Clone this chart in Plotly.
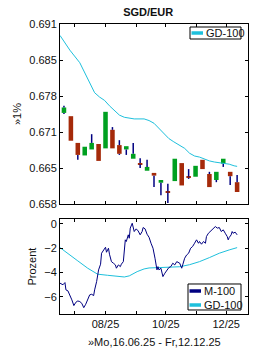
import plotly.graph_objects as go
import numpy as np
import pandas as pd

# ---------------- data ----------------
candle_dates = pd.date_range("2025-06-20", "2025-12-12", freq="7D")
c_open  = [0.6747, 0.6741, 0.6692, 0.6669, 0.6680, 0.6690, 0.6682, 0.6716, 0.6688, 0.6680,
           0.6663, 0.6655, 0.6641, 0.6637, 0.6619, 0.6603, 0.6622, 0.6655, 0.6630, 0.6630,
           0.6661, 0.6635, 0.6624, 0.6654, 0.6639, 0.6620]
c_high  = [0.6760, 0.6741, 0.6692, 0.6685, 0.6708, 0.6690, 0.6749, 0.6721, 0.6697, 0.6686,
           0.6692, 0.6664, 0.6661, 0.6637, 0.6624, 0.6617, 0.6663, 0.6655, 0.6644, 0.6650,
           0.6661, 0.6639, 0.6639, 0.6663, 0.6639, 0.6633]
c_low   = [0.6745, 0.6696, 0.6661, 0.6669, 0.6680, 0.6659, 0.6682, 0.6682, 0.6670, 0.6670,
           0.6663, 0.6646, 0.6641, 0.6611, 0.6596, 0.6582, 0.6622, 0.6614, 0.6626, 0.6630,
           0.6644, 0.6611, 0.6620, 0.6648, 0.6615, 0.6602]
c_close = [0.6757, 0.6696, 0.6670, 0.6685, 0.6692, 0.6659, 0.6749, 0.6682, 0.6672, 0.6686,
           0.6672, 0.6653, 0.6648, 0.6632, 0.6624, 0.6601, 0.6663, 0.6614, 0.6628, 0.6650,
           0.6644, 0.6611, 0.6639, 0.6663, 0.6631, 0.6602]

gd_top_dates = ["2025-06-16", "2025-06-26", "2025-07-06", "2025-07-16", "2025-07-21", "2025-07-26",
                "2025-07-31", "2025-08-05", "2025-08-10", "2025-08-15", "2025-08-20", "2025-08-25",
                "2025-08-30", "2025-09-09", "2025-09-14", "2025-09-19", "2025-09-24", "2025-09-29",
                "2025-10-04", "2025-10-09", "2025-10-15", "2025-10-20", "2025-10-25", "2025-10-30",
                "2025-11-04", "2025-11-09", "2025-11-14", "2025-11-19", "2025-11-24", "2025-11-29",
                "2025-12-04", "2025-12-09", "2025-12-12"]
gd_top_vals = [0.6889, 0.6862, 0.6839, 0.6802, 0.6784, 0.6776,
               0.6770, 0.6760, 0.6752, 0.6743, 0.6739, 0.6737,
               0.6736, 0.6736, 0.6733, 0.6728, 0.6719, 0.6710,
               0.6700, 0.6694, 0.6688, 0.6682, 0.6673, 0.6668,
               0.6666, 0.6662, 0.6659, 0.6657, 0.6656, 0.6654,
               0.6653, 0.6650, 0.6649]

m_dates = ["2025-06-16", "2025-06-19", "2025-06-21", "2025-06-22", "2025-06-24", "2025-06-26",
           "2025-06-28", "2025-06-30", "2025-07-02", "2025-07-04", "2025-07-06", "2025-07-08",
           "2025-07-10", "2025-07-12", "2025-07-14", "2025-07-16", "2025-07-18", "2025-07-20",
           "2025-07-21", "2025-07-23", "2025-07-25", "2025-07-27", "2025-07-28", "2025-07-30",
           "2025-08-01", "2025-08-02", "2025-08-04", "2025-08-05", "2025-08-07", "2025-08-09",
           "2025-08-11", "2025-08-12", "2025-08-14", "2025-08-16", "2025-08-17", "2025-08-19",
           "2025-08-20", "2025-08-21", "2025-08-22", "2025-08-24", "2025-08-25", "2025-08-26",
           "2025-08-28", "2025-08-30", "2025-09-01", "2025-09-03", "2025-09-05", "2025-09-07",
           "2025-09-08", "2025-09-10", "2025-09-12", "2025-09-14", "2025-09-16", "2025-09-18",
           "2025-09-20", "2025-09-21", "2025-09-22", "2025-09-23", "2025-09-24", "2025-09-26",
           "2025-09-27", "2025-09-28", "2025-09-30", "2025-10-02", "2025-10-04", "2025-10-06",
           "2025-10-08", "2025-10-10", "2025-10-12", "2025-10-15", "2025-10-17", "2025-10-18",
           "2025-10-20", "2025-10-22", "2025-10-24", "2025-10-26", "2025-10-28", "2025-10-30",
           "2025-11-01", "2025-11-03", "2025-11-04", "2025-11-06", "2025-11-08", "2025-11-10",
           "2025-11-11", "2025-11-13", "2025-11-15", "2025-11-17", "2025-11-19", "2025-11-20",
           "2025-11-22", "2025-11-24", "2025-11-26", "2025-11-28", "2025-11-30", "2025-12-02",
           "2025-12-03", "2025-12-04", "2025-12-06", "2025-12-07", "2025-12-08", "2025-12-10",
           "2025-12-12"]
m_vals = [-4.87, -5.00, -4.82, -5.42, -5.50, -5.83,
          -6.24, -6.71, -6.44, -6.33, -6.38, -6.52,
          -6.88, -6.60, -6.24, -5.83, -5.78, -5.89,
          -5.42, -4.74, -3.78, -3.31, -2.41, -2.14,
          -1.92, -2.33, -2.00, -2.49, -3.10, -3.23,
          -3.37, -3.64, -3.37, -3.51, -3.31, -3.10,
          -2.27, -1.31, -1.45, -0.90, -1.18, -0.35,
          0.05, -0.63, -0.41, -0.58, -0.90, -0.63,
          -0.30, -0.41, -0.85, -1.10, -1.59, -2.00,
          -2.82, -3.37, -3.78, -3.51, -3.78, -3.64,
          -4.19, -4.33, -4.05, -3.78, -3.59, -3.51,
          -3.23, -3.37, -3.10, -3.23, -3.64, -3.37,
          -2.82, -2.55, -2.41, -2.00, -1.86, -1.59,
          -1.31, -1.59, -1.45, -1.67, -1.45, -1.59,
          -1.04, -0.77, -0.63, -0.49, -0.35, -0.22,
          -0.35, -0.30, -0.63, -0.49, -0.77, -1.04,
          -1.31, -1.12, -0.90, -0.63, -0.77, -0.68,
          -0.90]

gd_bot_dates = ["2025-06-16", "2025-06-24", "2025-07-04", "2025-07-14", "2025-07-19", "2025-07-24",
                "2025-08-03", "2025-08-13", "2025-08-20", "2025-08-25", "2025-09-02", "2025-09-09",
                "2025-09-14", "2025-09-24", "2025-10-04", "2025-10-15", "2025-10-25", "2025-11-04",
                "2025-11-14", "2025-11-24", "2025-12-04", "2025-12-12"]
gd_bot_vals = [-1.95, -2.41, -3.04, -3.64, -3.92, -4.13,
               -4.22, -4.30, -4.36, -4.27, -3.92, -3.70,
               -3.62, -3.59, -3.58, -3.52, -3.35, -3.10,
               -2.77, -2.41, -2.14, -1.95]

top_tick_labels = ["0.658", "0.665", "0.671", "0.678", "0.685", "0.691"]
bot_tick_vals = [-6, -4, -2, 0]
month_ticks = ["2025-07-01", "2025-08-01", "2025-09-01", "2025-10-01", "2025-11-01", "2025-12-01"]
month_labels = ["", "08/25", "", "10/25", "", "12/25"]

# ---------------- styling ----------------
GREEN = "#00a020"
RED = "#a52a0a"
NAVY = "#000080"
CYAN = "#1ec0dc"
TXT = "#111111"
FONT = "Liberation Sans, Arial, sans-serif"
DAY_MS = 86400000

fig = go.Figure()

# bodies
base = [min(o, c) for o, c in zip(c_open, c_close)]
top = [max(o, c) for o, c in zip(c_open, c_close)]
hgt = [max(abs(c - o), 0.00015) for o, c in zip(c_open, c_close)]
cols = [GREEN if c > o else RED for o, c in zip(c_open, c_close)]
fig.add_trace(go.Bar(x=candle_dates, y=hgt, base=base, width=4.6 * DAY_MS,
                     marker=dict(color=cols, line=dict(width=0)),
                     xaxis="x", yaxis="y", showlegend=False))

# wicks: only the parts outside the body
wx, wy = [], []
for d, lo, hi, b, t in zip(candle_dates, c_low, c_high, base, top):
    if hi > t:
        wx += [d, d, None]
        wy += [t, hi, None]
    if lo < b:
        wx += [d, d, None]
        wy += [lo, b, None]
fig.add_trace(go.Scatter(x=wx, y=wy, mode="lines", line=dict(color=NAVY, width=1.5),
                         xaxis="x", yaxis="y", showlegend=False, hoverinfo="skip"))

fig.add_trace(go.Scatter(x=gd_top_dates, y=gd_top_vals, mode="lines",
                         line=dict(color=CYAN, width=1), xaxis="x", yaxis="y", showlegend=False))

fig.add_trace(go.Scatter(x=gd_bot_dates, y=gd_bot_vals, mode="lines",
                         line=dict(color=CYAN, width=1), xaxis="x2", yaxis="y2", showlegend=False))
fig.add_trace(go.Scatter(x=m_dates, y=m_vals, mode="lines",
                         line=dict(color=NAVY, width=1), xaxis="x2", yaxis="y2", showlegend=False))

xrange = ["2025-06-16", "2025-12-23"]
axis_common = dict(showline=True, linecolor="black", linewidth=1, mirror="ticks",
                   ticks="inside", ticklen=3, tickcolor="black", showgrid=False, zeroline=False,
                   tickfont=dict(family=FONT, size=11, color=TXT))

fig.update_layout(
    width=260, height=350,
    margin=dict(l=60, r=12, t=24, b=36),
    paper_bgcolor="white", plot_bgcolor="white",
    barmode="overlay", showlegend=False,
    title=dict(text="<b>SGD/EUR</b>", x=0.57, xanchor="center", y=1 - 12 / 350, yanchor="middle",
               font=dict(family=FONT, size=11, color=TXT)),
    xaxis=dict(domain=[0, 1], anchor="y", range=xrange, type="date",
               tickvals=month_ticks, showticklabels=False, **axis_common),
    yaxis=dict(domain=[0.3793, 1], anchor="x", range=[0.658, 0.691],
               tickvals=list(np.linspace(0.658, 0.691, 6)), ticktext=top_tick_labels, **axis_common),
    xaxis2=dict(domain=[0, 1], anchor="y2", range=xrange, type="date",
                tickvals=month_ticks, ticktext=month_labels, **axis_common),
    yaxis2=dict(domain=[0, 0.3276], anchor="x2", range=[-7.4, 0.4],
                tickvals=bot_tick_vals, **axis_common),
)

# axis titles
fig.add_annotation(text="»1%", textangle=-90, xref="paper", yref="y domain", x=-43 / 188, y=0.5,
                   xanchor="center", yanchor="middle", showarrow=False,
                   font=dict(family=FONT, size=11, color=TXT))
fig.add_annotation(text="Prozent", textangle=-90, xref="paper", yref="y2 domain", x=-28 / 188, y=0.5,
                   xanchor="center", yanchor="middle", showarrow=False,
                   font=dict(family=FONT, size=11, color=TXT))
fig.add_annotation(text="»Mo,16.06.25 - Fr,12.12.25", xref="paper", yref="paper", x=0.5, y=-28 / 290,
                   xanchor="center", yanchor="middle", showarrow=False,
                   font=dict(family=FONT, size=11, color=TXT))

# legend boxes (manual)
def legend_box(xref, yref, x0, x1, y0, y1, entries):
    fig.add_shape(type="rect", xref=xref, yref=yref, x0=x0, x1=x1, y0=y0, y1=y1,
                  line=dict(color="black", width=1), fillcolor="white", layer="above")
    for name, color, yy in entries:
        fig.add_shape(type="line", xref=xref, yref=yref, x0=x0 + 1.5 / 188, x1=x0 + 13 / 188,
                      y0=yy, y1=yy, line=dict(color=color, width=3.5), layer="above")
        fig.add_annotation(text=name, xref=xref, yref=yref, x=x0 + 13.5 / 188, y=yy,
                           xanchor="left", yanchor="middle", showarrow=False,
                           font=dict(family=FONT, size=11, color=TXT))

legend_box("x domain", "y domain", (190 - 60) / 188, (241 - 60) / 188,
           (204 - 39) / 180, (204 - 27) / 180, [("GD-100", CYAN, (204 - 33) / 180)])
legend_box("x2 domain", "y2 domain", (188 - 60) / 188, (241 - 60) / 188,
           (314 - 310) / 95, (314 - 284) / 95,
           [("M-100", NAVY, (314 - 291) / 95), ("GD-100", CYAN, (314 - 305) / 95)])

fig.write_html("out.html")
